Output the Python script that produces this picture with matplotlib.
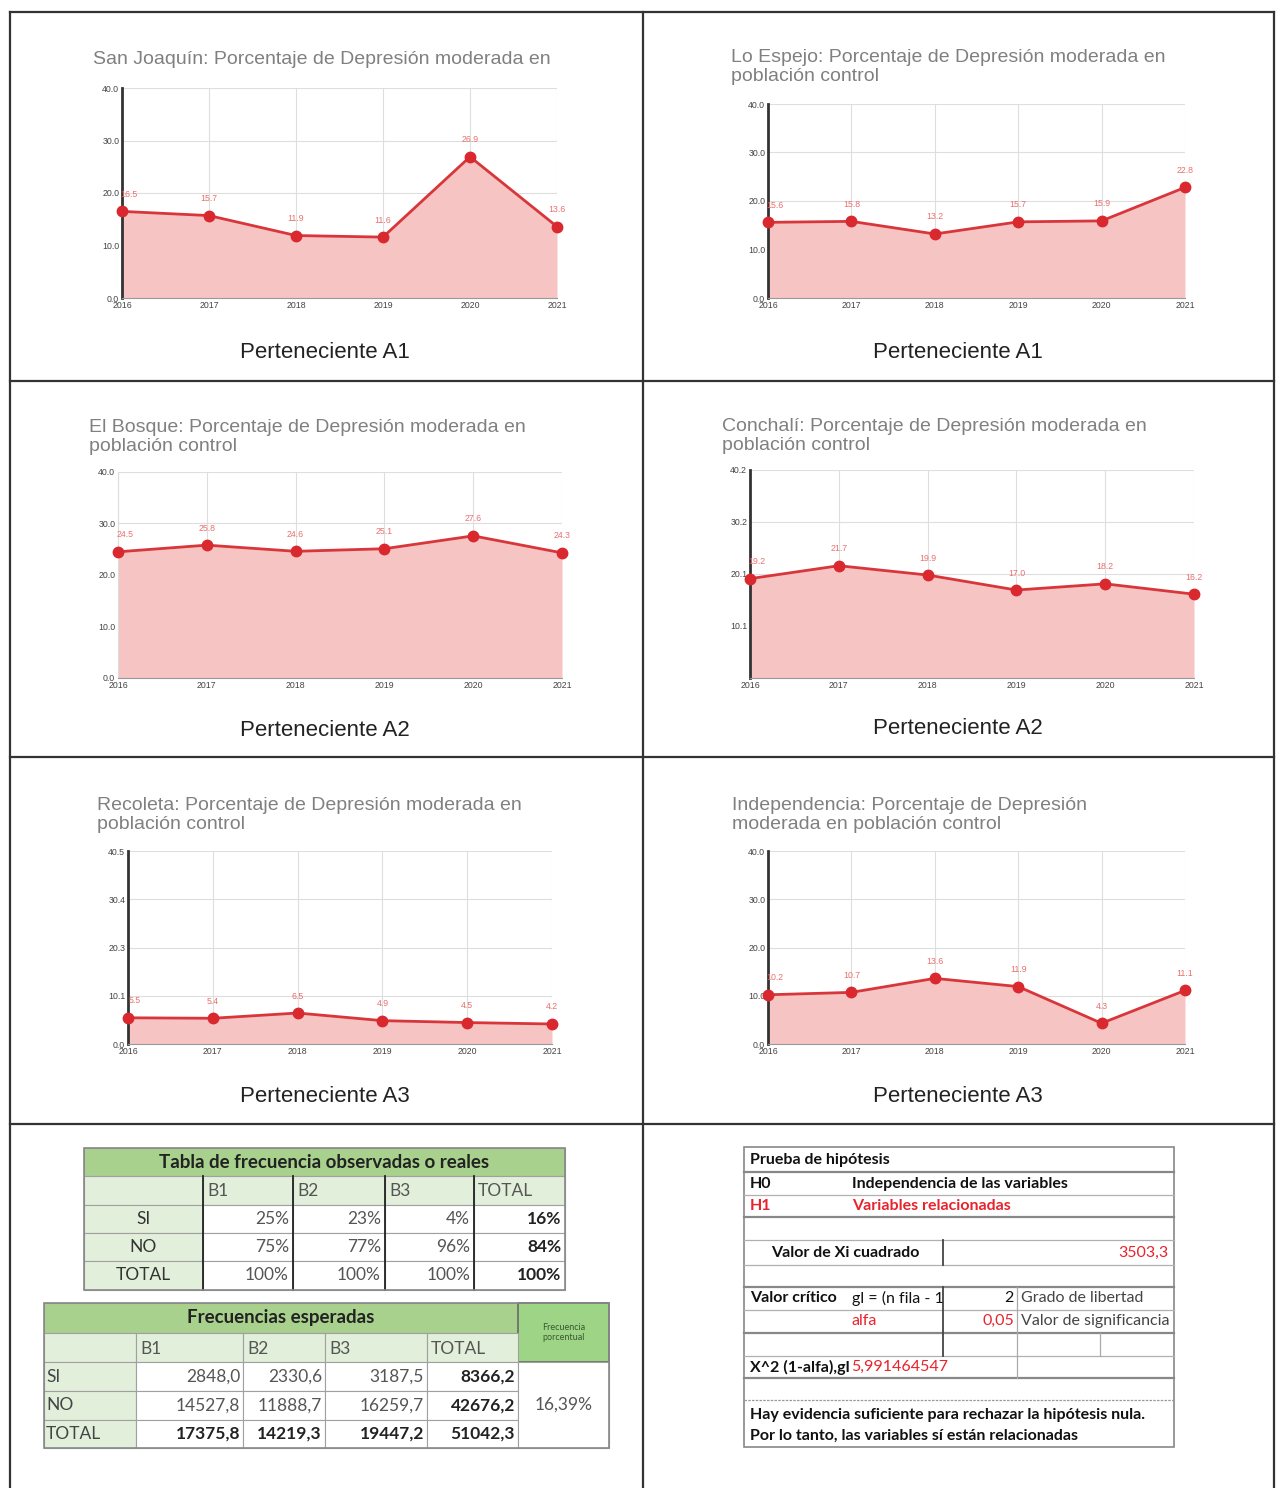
import matplotlib
matplotlib.use('Agg')
import matplotlib.pyplot as plt
from matplotlib.patches import Rectangle

# ---------------- data ----------------
years = [2016, 2017, 2018, 2019, 2020, 2021]
san_joaquin = [16.5, 15.7, 11.9, 11.6, 26.9, 13.6]
lo_espejo = [15.6, 15.8, 13.2, 15.7, 15.9, 22.8]
el_bosque = [24.5, 25.8, 24.6, 25.1, 27.6, 24.3]
conchali = [19.2, 21.7, 19.9, 17.0, 18.2, 16.2]
recoleta = [5.5, 5.4, 6.5, 4.9, 4.5, 4.2]
independencia = [10.2, 10.7, 13.6, 11.9, 4.3, 11.1]

titles = [
    "San Joaquín: Porcentaje de Depresión moderada en",
    "Lo Espejo: Porcentaje de Depresión moderada en\npoblación control",
    "El Bosque: Porcentaje de Depresión moderada en\npoblación control",
    "Conchalí: Porcentaje de Depresión moderada en\npoblación control",
    "Recoleta: Porcentaje de Depresión moderada en\npoblación control",
    "Independencia: Porcentaje de Depresión\nmoderada en población control",
]
captions = ["Perteneciente A1", "Perteneciente A1", "Perteneciente A2",
            "Perteneciente A2", "Perteneciente A3", "Perteneciente A3"]

yticks_std = [0, 10, 20, 30, 40]
yticks_co = [0, 10.05, 20.1, 30.15, 40.2]
yticks_re = [0, 10.125, 20.25, 30.375, 40.5]
ylabels_std = ["0.0", "10.0", "20.0", "30.0", "40.0"]
ylabels_co = ["", "10.1", "20.1", "30.2", "40.2"]
ylabels_re = ["0.0", "10.1", "20.3", "30.4", "40.5"]

obs_cols = ["B1", "B2", "B3", "TOTAL"]
obs_rows = ["SI", "NO", "TOTAL"]
obs_pct = [[25, 23, 4, 16], [75, 77, 96, 84], [100, 100, 100, 100]]

exp_cols = ["B1", "B2", "B3", "TOTAL"]
exp_rows = ["SI", "NO", "TOTAL"]
exp_vals = [[2848.0, 2330.6, 3187.5, 8366.2],
            [14527.8, 11888.7, 16259.7, 42676.2],
            [17375.8, 14219.3, 19447.2, 51042.3]]
freq_pct = 16.39

chi_sq = 3503.3
gl = 2
alfa = 0.05
chi_crit = 5.991464547

# ---------------- layout ----------------
W, H = 1276, 1488
fig = plt.figure(figsize=(W / 100, H / 100), dpi=100)
bg = fig.add_axes([0, 0, 1, 1])
bg.set_xlim(0, W)
bg.set_ylim(H, 0)
bg.axis('off')

CF = 'Liberation Sans'
TF = 'Lato'
FILL = '#f6c4c3'
LINE = '#d8363a'
LBL = '#e8706f'


def px_axes(x0, y0, x1, y1):
    return fig.add_axes([x0 / W, 1 - y1 / H, (x1 - x0) / W, (y1 - y0) / H])


# grid borders
for y in [12, 381, 757, 1124]:
    bg.plot([10, 1274], [y, y], color='#333333', lw=1.6)
for x in [10, 643, 1274]:
    bg.plot([x, x], [12, 1488], color='#333333', lw=1.6)

charts = [
    (san_joaquin, (122, 88, 557, 298), (93, 60), (325, 353), yticks_std, ylabels_std, True),
    (lo_espejo, (768, 104, 1185, 298), (731, 57), (958, 353), yticks_std, ylabels_std, True),
    (el_bosque, (118, 472, 562, 678), (89, 427), (325, 731), yticks_std, ylabels_std, False),
    (conchali, (750, 470, 1194, 678), (722, 426), (958, 729), yticks_co, ylabels_co, True),
    (recoleta, (128, 851, 552, 1044), (97, 805), (325, 1097), yticks_re, ylabels_re, True),
    (independencia, (768, 851, 1185, 1044), (732, 805), (958, 1097), yticks_std, ylabels_std, True),
]

for i, (vals, box, tpos, cpos, yt, yl, dark_left) in enumerate(charts):
    ax = px_axes(*box)
    ax.fill_between(years, vals, 0, color=FILL, lw=0, zorder=1)
    ax.plot(years, vals, color=LINE, lw=2, marker='o', ms=7.5,
            mfc='#d9282e', mec='#d9282e', zorder=3, clip_on=False)
    for k, (x, v) in enumerate(zip(years, vals)):
        dx = 5 if k == 0 else 0
        ax.annotate(f"{v:.1f}", (x, v), xytext=(dx, 9), textcoords='offset points',
                    ha='center', va='bottom', fontsize=6.3, color=LBL,
                    family=CF, annotation_clip=False)
    ax.set_xlim(2016, 2021)
    ax.set_ylim(0, yt[-1])
    ax.set_yticks(yt)
    ax.set_yticklabels(yl, family=CF)
    ax.set_xticks(years)
    ax.set_xticklabels([str(y) for y in years], family=CF)
    ax.grid(True, color='#dedede', lw=0.8)
    ax.set_axisbelow(True)
    for s in ['top', 'right']:
        ax.spines[s].set_visible(False)
    ax.spines['bottom'].set_color('#999999')
    if dark_left:
        ax.spines['left'].set_color('#333333')
        ax.spines['left'].set_linewidth(2)
    else:
        ax.spines['left'].set_color('#dddddd')
    ax.tick_params(labelsize=6.3, length=0, pad=2, colors='#444444')
    nlines = titles[i].count('\n') + 1
    cy = tpos[1] + (nlines - 1) * 10
    bg.text(tpos[0], cy, titles[i], ha='left', va='center', fontsize=14,
            color='#808080', family=CF, linespacing=1.22)
    bg.text(cpos[0], cpos[1], captions[i], ha='center', va='center', fontsize=16,
            color='#222222', family=CF)

# ---------------- tables ----------------
GREEN = '#a9d18e'
LIGHT = '#e2efda'
GRID = '#a0a0a0'


def cell(x0, y0, x1, y1, fc='white', ec=GRID, lw=0.8):
    bg.add_patch(Rectangle((x0, y0), x1 - x0, y1 - y0, fc=fc, ec=ec, lw=lw, zorder=1))


def txt(x, y, s, ha='left', fs=13, bold=False, color='#222222', clip=None):
    t = bg.text(x, y, s, ha=ha, va='center', fontsize=fs, family=TF,
                fontweight='bold' if bold else 'normal', color=color, zorder=3)
    if clip is not None:
        r = Rectangle((clip[0], clip[1]), clip[2] - clip[0], clip[3] - clip[1],
                      transform=bg.transData, fc='none', ec='none')
        t.set_clip_path(r)
    return t


def fmt_num(v):
    return f"{v:.1f}".replace('.', ',')


TFS = 12.5

# Table 1: observed
cx = [84, 203, 293, 385, 474, 565]
ry = [1148, 1176, 1205, 1233, 1261, 1290]
cell(cx[0], ry[0], cx[-1], ry[1], fc=GREEN)
txt((cx[0] + cx[-1]) / 2, (ry[0] + ry[1]) / 2, "Tabla de frecuencia observadas o reales",
    ha='center', fs=13.5, bold=True)
cell(cx[0], ry[1], cx[1], ry[2], fc=LIGHT)
for j, name in enumerate(obs_cols):
    cell(cx[j + 1], ry[1], cx[j + 2], ry[2], fc=LIGHT)
    txt(cx[j + 1] + 4, (ry[1] + ry[2]) / 2 + 1, name, fs=TFS, color='#555555')
for r, rname in enumerate(obs_rows):
    y0, y1 = ry[r + 2], ry[r + 3]
    cell(cx[0], y0, cx[1], y1, fc=LIGHT)
    txt((cx[0] + cx[1]) / 2, (y0 + y1) / 2, rname, ha='center', fs=TFS, color='#333333')
    for j, v in enumerate(obs_pct[r]):
        cell(cx[j + 1], y0, cx[j + 2], y1, fc='white')
        last = j == len(obs_pct[r]) - 1
        txt(cx[j + 2] - 4, (y0 + y1) / 2, f"{v}%", ha='right', fs=TFS, bold=last,
            color='#222222' if last else '#555555')
for x in cx[1:-1]:
    bg.plot([x, x], [ry[1], ry[-1]], color='#222222', lw=1.3, zorder=2)
bg.add_patch(Rectangle((cx[0], ry[0]), cx[-1] - cx[0], ry[-1] - ry[0], fc='none',
                       ec='#888888', lw=1.2, zorder=2))

# Table 2: expected
cx2 = [44, 136, 243, 325, 427, 518, 609]
ry2 = [1303, 1333, 1362, 1391, 1420, 1448]
cell(cx2[0], ry2[0], cx2[5], ry2[1], fc=GREEN)
txt((cx2[0] + cx2[5]) / 2, (ry2[0] + ry2[1]) / 2, "Frecuencias esperadas", ha='center',
    fs=13.5, bold=True)
cell(cx2[5], ry2[0], cx2[6], ry2[2], fc='#9ed486', ec='#6a6a6a', lw=1.2)
txt((cx2[5] + cx2[6]) / 2, (ry2[0] + ry2[2]) / 2, "Frecuencia\nporcentual", ha='center',
    fs=6.5, color='#3a5a30')
cell(cx2[0], ry2[1], cx2[1], ry2[2], fc=LIGHT)
for j, name in enumerate(exp_cols):
    cell(cx2[j + 1], ry2[1], cx2[j + 2], ry2[2], fc=LIGHT)
    txt(cx2[j + 1] + 4, (ry2[1] + ry2[2]) / 2 + 1, name, fs=TFS, color='#555555')
for r, rname in enumerate(exp_rows):
    y0, y1 = ry2[r + 2], ry2[r + 3]
    cell(cx2[0], y0, cx2[1], y1, fc=LIGHT)
    txt(cx2[0] + 2, (y0 + y1) / 2, rname, fs=TFS, color='#444444')
    for j, v in enumerate(exp_vals[r]):
        cell(cx2[j + 1], y0, cx2[j + 2], y1, fc='white')
        bold = (j == len(exp_vals[r]) - 1) or (r == len(exp_rows) - 1)
        txt(cx2[j + 2] - 3, (y0 + y1) / 2, fmt_num(v), ha='right', fs=TFS, bold=bold,
            color='#222222' if bold else '#555555')
cell(cx2[5], ry2[2], cx2[6], ry2[-1], fc='white')
txt((cx2[5] + cx2[6]) / 2, (ry2[2] + ry2[-1]) / 2, f"{freq_pct:.2f}%".replace('.', ','),
    ha='center', fs=TFS, color='#555555')
bg.add_patch(Rectangle((cx2[0], ry2[0]), cx2[6] - cx2[0], ry2[-1] - ry2[0], fc='none',
                       ec='#888888', lw=1.2, zorder=2))

# Table 3: hypothesis test
RED = '#e8232c'
X0, X1, Y0, Y1 = 744, 1174, 1147, 1447
bg.add_patch(Rectangle((X0, Y0), X1 - X0, Y1 - Y0, fc='white', ec='#888888', lw=1.2, zorder=1))
dark_lines = [1172, 1217, 1287, 1333, 1378]
light_lines = [1195, 1240, 1265, 1310, 1356]
for y in dark_lines:
    bg.plot([X0, X1], [y, y], color='#888888', lw=1.6, zorder=2)
for y in light_lines:
    bg.plot([X0, X1], [y, y], color='#b0b0b0', lw=0.9, zorder=2)
bg.plot([X0, X1], [1400, 1400], color='#999999', lw=0.9, ls=(0, (2, 1)), zorder=2)
bg.plot([943, 943], [1240, 1265], color='#444444', lw=1.3, zorder=2)
bg.plot([943, 943], [1287, 1356], color='#444444', lw=1.3, zorder=2)
bg.plot([1017, 1017], [1287, 1378], color='#aaaaaa', lw=0.9, zorder=2)
bg.plot([1100, 1100], [1333, 1356], color='#aaaaaa', lw=0.9, zorder=2)

fs3 = 11.5
txt(750, 1160, "Prueba de hipótesis", fs=fs3, bold=True, color='#111111')
txt(750, 1184, "H0", fs=fs3, bold=True, color='#111111')
txt(852, 1184, "Independencia de las variables", fs=fs3, bold=True, color='#111111')
txt(750, 1206, "H1", fs=fs3, bold=True, color=RED)
txt(852, 1206, "Variables relacionadas", fs=fs3, bold=True, color=RED)
txt(845, 1253, "Valor de Xi cuadrado", ha='center', fs=fs3, bold=True, color='#111111')
txt(1168, 1253, fmt_num(chi_sq), ha='right', fs=fs3, color=RED)
txt(750, 1298, "Valor crítico", fs=fs3, bold=True, color='#111111')
txt(852, 1298, "gl = (n fila - 1", fs=fs3, color='#111111', clip=(848, 1287, 942, 1310))
txt(1014, 1298, f"{gl}", ha='right', fs=fs3, color='#111111')
txt(1021, 1298, "Grado de libertad", fs=fs3, color='#444444')
txt(852, 1321, "alfa", fs=fs3, color=RED)
txt(1014, 1321, f"{alfa:.2f}".replace('.', ','), ha='right', fs=fs3, color=RED)
txt(1021, 1321, "Valor de significancia", fs=fs3, color='#444444',
    clip=(1017, 1310, 1173, 1333))
txt(750, 1367, "X^2 (1-alfa),gl", fs=fs3, bold=True, color='#111111')
txt(851, 1367, f"{chi_crit:.9f}".replace('.', ','), fs=fs3, color=RED)
txt(750, 1415, "Hay evidencia suficiente para rechazar la hipótesis nula.", fs=fs3, bold=True,
    color='#111111')
txt(750, 1436, "Por lo tanto, las variables sí están relacionadas", fs=fs3, bold=True,
    color='#111111')

fig.savefig('out.png', dpi=100)
